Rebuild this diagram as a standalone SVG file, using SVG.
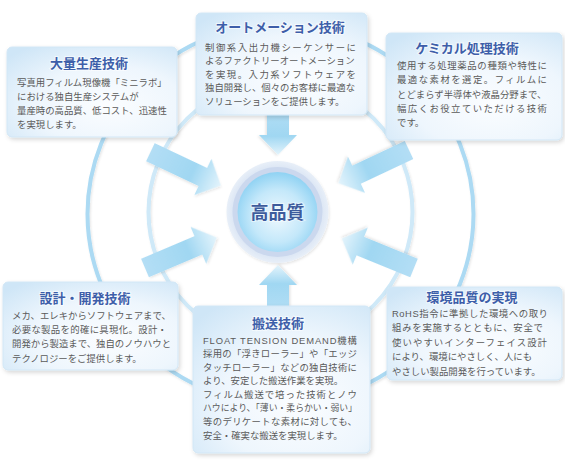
<svg xmlns="http://www.w3.org/2000/svg" width="565" height="462" viewBox="0 0 565 462">
<defs>
  <radialGradient id="boxg" cx="0.6" cy="0.65" r="0.8">
    <stop offset="0" stop-color="#fbfdff"/>
    <stop offset="0.55" stop-color="#eef6fd"/>
    <stop offset="1" stop-color="#cfe6f7"/>
  </radialGradient>
  <linearGradient id="arrg" x1="0" y1="0" x2="1" y2="0">
    <stop offset="0" stop-color="#b3def5"/>
    <stop offset="0.6" stop-color="#a0d7f2"/>
    <stop offset="1" stop-color="#e4f4fc"/>
  </linearGradient>
  <radialGradient id="coreg" cx="0.5" cy="0.55" r="0.55">
    <stop offset="0" stop-color="#eef8fe"/>
    <stop offset="0.6" stop-color="#c4e8fa"/>
    <stop offset="1" stop-color="#8fd2f3"/>
  </radialGradient>
  <radialGradient id="halog" cx="0.5" cy="0.5" r="0.5">
    <stop offset="0.8" stop-color="#d6e2f3"/>
    <stop offset="1" stop-color="#e8eff8"/>
  </radialGradient>
  <filter id="sh" x="-20%" y="-20%" width="140%" height="140%">
    <feDropShadow dx="1.5" dy="2" stdDeviation="2" flood-color="#000" flood-opacity="0.16"/>
  </filter>
  <filter id="shs" x="-20%" y="-20%" width="140%" height="140%">
    <feDropShadow dx="1" dy="1.5" stdDeviation="1.2" flood-color="#000" flood-opacity="0.1"/>
  </filter>
  <path id="arr" d="M0,-10 L58,-10 L58,-20 L78,0 L58,20 L58,10 L0,10 Z"/>
  <path id="arrs" d="M0,-11 L27,-11 L27,-19 L47,0 L27,19 L27,11 L0,11 Z"/>
</defs>
<style>
  .box { fill: url(#boxg); stroke: #d2e7f6; stroke-width: 1; filter: url(#sh); }
  .ttl { font-family: "Noto Sans CJK JP", "Noto Sans", sans-serif; font-size: 13px; font-weight: bold; fill: #3d5ea9; text-anchor: middle; stroke: #ffffff; stroke-width: 2px; stroke-opacity: 0.6; paint-order: stroke; }
  .txt { font-family: "Noto Sans CJK JP", "Noto Sans", sans-serif; font-size: 9.4px; fill: #5a5a5a; }
  .lat { font-family: "Liberation Sans", "Noto Sans", sans-serif; }
  .arrow { fill: url(#arrg); filter: url(#shs); }
  .ring1 { fill: none; stroke: #acdaf3; stroke-width: 4; filter: url(#shs); }
  .ring2 { fill: none; stroke: #cfe9f8; stroke-width: 4; filter: url(#shs); }
</style>
<rect width="565" height="462" fill="#ffffff"/>
<g id="connectors">
  <ellipse class="ring1" cx="280.5" cy="214" rx="193" ry="190"/>
  <circle class="ring2" cx="280.5" cy="212" r="132"/>
  <use href="#arr" class="arrow" transform="translate(150.4,152.2) rotate(25.3)"/>
  <use href="#arr" class="arrow" transform="translate(145,268) rotate(-23)"/>
  <use href="#arr" class="arrow" transform="translate(409,150) rotate(154.8)"/>
  <use href="#arr" class="arrow" transform="translate(414,268) rotate(202.2)"/>
  <use href="#arrs" class="arrow" transform="translate(278,108) rotate(90)"/>
  <use href="#arrs" class="arrow" transform="translate(278,312) rotate(-90)"/>
</g>
<g id="center">
  <circle cx="277.5" cy="212" r="51" fill="url(#halog)" filter="url(#shs)"/>
  <circle cx="277.5" cy="212" r="45" fill="#cbd8ee"/>
  <circle cx="277.5" cy="212" r="40" fill="url(#coreg)"/>
  <text x="277.5" y="218.5" text-anchor="middle" style="font-family: 'Noto Sans CJK JP', 'Noto Sans', sans-serif; font-size: 18px; font-weight: bold; fill: #3d5b9c; stroke: #ffffff; stroke-width: 2px; stroke-opacity: 0.5; paint-order: stroke;">高品質</text>
</g>
<g id="node-mass">
  <rect class="box" x="7" y="47" width="170" height="90" rx="5"/>
  <text class="ttl" x="89" y="67.5">大量生産技術</text>
  <text class="txt" x="17" y="86">写真用フィルム現像機「ミニラボ」</text>
  <text class="txt" x="17" y="100">における独自生産システムが</text>
  <text class="txt" x="17" y="114">量産時の高品質、低コスト、迅速性</text>
  <text class="txt" x="17" y="128">を実現します。</text>
</g>
<g id="node-auto">
  <rect class="box" x="196" y="13" width="171" height="102" rx="5"/>
  <text class="ttl" x="280" y="31.5">オートメーション技術</text>
  <text class="txt" x="205" y="50.5" textLength="151" lengthAdjust="spacing">制御系入出力機シーケンサーに</text>
  <text class="txt" x="205" y="64">よるファクトリーオートメーション</text>
  <text class="txt" x="205" y="77.5" textLength="151" lengthAdjust="spacing">を実現。入力系ソフトウェアを</text>
  <text class="txt" x="205" y="91">独自開発し、個々のお客様に最適な</text>
  <text class="txt" x="205" y="104.5">ソリューションをご提供します。</text>
</g>
<g id="node-chem">
  <rect class="box" x="386" y="33" width="176" height="107" rx="5"/>
  <text class="ttl" x="467" y="52.5">ケミカル処理技術</text>
  <text class="txt" x="397" y="68.5" textLength="150" lengthAdjust="spacing">使用する処理薬品の種類や特性に</text>
  <text class="txt" x="397" y="83" textLength="150" lengthAdjust="spacing">最適な素材を選定。フィルムに</text>
  <text class="txt" x="397" y="97.5">とどまらず半導体や液晶分野まで、</text>
  <text class="txt" x="397" y="111.5" textLength="150" lengthAdjust="spacing">幅広くお役立ていただける技術</text>
  <text class="txt" x="397" y="125.5">です。</text>
</g>
<g id="node-design">
  <rect class="box" x="3" y="282" width="175" height="88" rx="5"/>
  <text class="ttl" x="85" y="302.5">設計・開発技術</text>
  <text class="txt" x="12" y="318.5">メカ、エレキからソフトウェアまで、</text>
  <text class="txt" x="12" y="332.5" textLength="155" lengthAdjust="spacing">必要な製品を的確に具現化。設計・</text>
  <text class="txt" x="12" y="347">開発から製造まで、独自のノウハウと</text>
  <text class="txt" x="12" y="361.5">テクノロジーをご提供します。</text>
</g>
<g id="node-transport">
  <rect class="box" x="193" y="306" width="177" height="147" rx="5"/>
  <text class="ttl" x="278" y="327.5">搬送技術</text>
  <text class="txt" x="203" y="343.5" textLength="154" lengthAdjust="spacing"><tspan class="lat">FLOAT TENSION DEMAND</tspan>機構</text>
  <text class="txt" x="203" y="357" textLength="154" lengthAdjust="spacing">採用の「浮きローラー」や「エッジ</text>
  <text class="txt" x="203" y="370.5" textLength="154" lengthAdjust="spacing">タッチローラー」などの独自技術に</text>
  <text class="txt" x="203" y="384">より、安定した搬送作業を実現。</text>
  <text class="txt" x="203" y="397.5" textLength="154" lengthAdjust="spacing">フィルム搬送で培った技術とノウ</text>
  <text class="txt" x="203" y="411" textLength="154" lengthAdjust="spacingAndGlyphs">ハウにより、「薄い・柔らかい・弱い」</text>
  <text class="txt" x="203" y="425" textLength="154" lengthAdjust="spacing">等のデリケートな素材に対しても、</text>
  <text class="txt" x="203" y="438.5">安全・確実な搬送を実現します。</text>
</g>
<g id="node-env">
  <rect class="box" x="387" y="287" width="175" height="93" rx="5"/>
  <text class="ttl" x="472" y="301.5">環境品質の実現</text>
  <text class="txt" x="392" y="316.5" textLength="156" lengthAdjust="spacing"><tspan class="lat">RoHS</tspan>指令に準拠した環境への取り</text>
  <text class="txt" x="392" y="331" textLength="151" lengthAdjust="spacing">組みを実施するとともに、安全で</text>
  <text class="txt" x="392" y="345.5" textLength="155" lengthAdjust="spacing">使いやすいインターフェイス設計</text>
  <text class="txt" x="392" y="360">により、環境にやさしく、人にも</text>
  <text class="txt" x="392" y="374.5">やさしい製品開発を行っています。</text>
</g>
</svg>
